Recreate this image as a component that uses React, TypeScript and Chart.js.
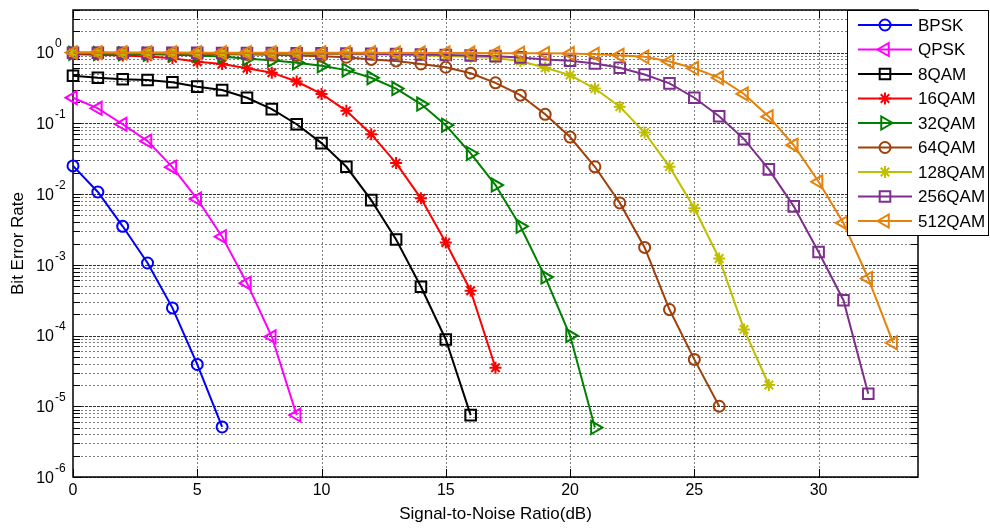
import React, { useEffect, useRef } from "react";
import { Chart, registerables } from "chart.js";
import { drawPoint } from "chart.js/helpers";

Chart.register(...registerables);

// SNR sweep (dB)
const snrDb = [0, 1, 2, 3, 4, 5, 6, 7, 8, 9, 10, 11, 12, 13, 14, 15, 16, 17, 18, 19, 20, 21, 22, 23, 24, 25, 26, 27, 28, 29, 30, 31, 32, 33];

// Simulated bit error rate per modulation, starting at 0 dB
const berBPSK = [2.5e-2, 1.07e-2, 3.5e-3, 1.06e-3, 2.46e-4, 3.9e-5, 5.1e-6];
const berQPSK = [0.23, 0.163, 0.097, 0.056, 0.024, 8.5e-3, 2.5e-3, 5.5e-4, 9.6e-5, 7.5e-6];
const ber8QAM = [0.47, 0.44, 0.42, 0.41, 0.38, 0.33, 0.295, 0.23, 0.159, 0.097, 0.0525, 0.0243, 8.2e-3, 2.28e-3, 4.9e-4, 8.8e-5, 7.5e-6];
const ber16QAM = [0.95, 0.93, 0.91, 0.88, 0.83, 0.74, 0.69, 0.6, 0.52, 0.39, 0.26, 0.15, 0.0703, 0.0274, 8.7e-3, 2.07e-3, 4.3e-4, 3.5e-5];
const ber32QAM = [0.98, 0.97, 0.96, 0.95, 0.93, 0.91, 0.88, 0.82, 0.78, 0.72, 0.65, 0.565, 0.44, 0.31, 0.187, 0.094, 0.0375, 0.0134, 3.5e-3, 6.7e-4, 1.0e-4, 5.0e-6];
const ber64QAM = [0.99, 0.985, 0.98, 0.975, 0.97, 0.96, 0.95, 0.94, 0.93, 0.91, 0.89, 0.86, 0.8, 0.76, 0.69, 0.62, 0.51, 0.374, 0.25, 0.134, 0.064, 0.0243, 7.5e-3, 1.76e-3, 2.33e-4, 4.6e-5, 1.0e-5];
const ber128QAM = [0.995, 0.993, 0.99, 0.988, 0.985, 0.982, 0.978, 0.974, 0.97, 0.965, 0.958, 0.95, 0.94, 0.93, 0.915, 0.895, 0.87, 0.84, 0.76, 0.61, 0.48, 0.31, 0.172, 0.074, 0.0244, 6.3e-3, 1.23e-3, 1.22e-4, 2.0e-5];
const ber256QAM = [0.997, 0.996, 0.995, 0.994, 0.992, 0.99, 0.988, 0.985, 0.982, 0.978, 0.973, 0.967, 0.96, 0.95, 0.94, 0.925, 0.91, 0.89, 0.855, 0.8, 0.765, 0.7, 0.61, 0.49, 0.367, 0.23, 0.126, 0.0598, 0.0223, 6.7e-3, 1.52e-3, 3.16e-4, 1.5e-5];
const ber512QAM = [0.999, 0.999, 0.998, 0.998, 0.998, 0.997, 0.997, 0.996, 0.996, 0.995, 0.994, 0.993, 0.992, 0.99, 0.989, 0.987, 0.985, 0.982, 0.979, 0.975, 0.97, 0.95, 0.92, 0.87, 0.75, 0.6, 0.44, 0.26, 0.124, 0.049, 0.0149, 3.9e-3, 6.4e-4, 7.9e-5];

const seriesNames = ["BPSK", "QPSK", "8QAM", "16QAM", "32QAM", "64QAM", "128QAM", "256QAM", "512QAM"];
const seriesValues = [berBPSK, berQPSK, ber8QAM, ber16QAM, ber32QAM, ber64QAM, ber128QAM, ber256QAM, ber512QAM];

// x-axis tick labels and y decades
const xTicks = [0, 5, 10, 15, 20, 25, 30];
const yDecades = [-6, -5, -4, -3, -2, -1, 0];

const xTitle = "Signal-to-Noise Ratio(dB)";
const yTitle = "Bit Error Rate";

type MarkerStyle = { color: string; pointStyle: string; rotation: number; radius: number };

const markerStyles: MarkerStyle[] = [
  { color: "#0000FF", pointStyle: "circle", rotation: 0, radius: 5.5 },
  { color: "#FF00FF", pointStyle: "triangle", rotation: -90, radius: 7.5 },
  { color: "#000000", pointStyle: "rect", rotation: 0, radius: 7.5 },
  { color: "#FF0000", pointStyle: "star", rotation: 0, radius: 6 },
  { color: "#008000", pointStyle: "triangle", rotation: 90, radius: 7.5 },
  { color: "#A0400A", pointStyle: "circle", rotation: 0, radius: 5.5 },
  { color: "#BFBF00", pointStyle: "star", rotation: 0, radius: 6 },
  { color: "#7E2F8E", pointStyle: "rect", rotation: 0, radius: 7.5 },
  { color: "#E6820A", pointStyle: "triangle", rotation: -90, radius: 7.5 },
];

const FONT = '"Liberation Sans", Arial, Helvetica, sans-serif';

const crisp = (v: number) => Math.round(v) + 0.5;

// White page, dotted grid, box, ticks and axis labels in the classic log-plot look
const axesPlugin = {
  id: "logAxes",
  beforeDraw(chart: any) {
    const { ctx, width, height } = chart;
    ctx.save();
    ctx.fillStyle = "#ffffff";
    ctx.fillRect(0, 0, width, height);
    ctx.restore();
  },
  beforeDatasetsDraw(chart: any) {
    const { ctx, chartArea: a } = chart;
    const xs = chart.scales.x;
    const ys = chart.scales.y;
    ctx.save();
    ctx.lineWidth = 1;

    // minor and major horizontal grid
    const yTickVals: { v: number; major: boolean }[] = [];
    for (let e = -6; e <= 0; e++) {
      for (let k = 1; k <= 9; k++) {
        const v = k * Math.pow(10, e);
        if (v > 4.0001) break;
        yTickVals.push({ v, major: k === 1 });
      }
    }
    for (const t of yTickVals) {
      const py = crisp(ys.getPixelForValue(t.v));
      if (t.major) {
        ctx.strokeStyle = "rgba(0,0,0,0.8)";
        ctx.setLineDash([3, 1]);
      } else {
        ctx.strokeStyle = "rgba(0,0,0,0.5)";
        ctx.setLineDash([2, 2]);
      }
      ctx.beginPath();
      ctx.moveTo(a.left, py);
      ctx.lineTo(a.right, py);
      ctx.stroke();
    }

    // vertical grid
    ctx.strokeStyle = "rgba(0,0,0,0.5)";
    ctx.setLineDash([2, 2]);
    for (const t of xTicks) {
      if (t === 0) continue;
      const px = crisp(xs.getPixelForValue(t));
      ctx.beginPath();
      ctx.moveTo(px, a.top);
      ctx.lineTo(px, a.bottom);
      ctx.stroke();
    }
    ctx.setLineDash([]);

    // ticks on all four sides
    ctx.strokeStyle = "#000";
    for (const t of yTickVals) {
      const py = crisp(ys.getPixelForValue(t.v));
      const len = t.major ? 8 : 7;
      ctx.beginPath();
      ctx.moveTo(a.left, py);
      ctx.lineTo(a.left + len, py);
      ctx.moveTo(a.right, py);
      ctx.lineTo(a.right - len, py);
      ctx.stroke();
    }
    for (const t of xTicks) {
      const px = crisp(xs.getPixelForValue(t));
      ctx.beginPath();
      ctx.moveTo(px, a.bottom);
      ctx.lineTo(px, a.bottom - 8);
      ctx.moveTo(px, a.top);
      ctx.lineTo(px, a.top + 8);
      ctx.stroke();
    }

    // box
    ctx.lineWidth = 1.5;
    ctx.strokeRect(Math.round(a.left), Math.round(a.top), Math.round(a.right - a.left), Math.round(a.bottom - a.top));

    // tick labels
    ctx.fillStyle = "#000";
    ctx.textBaseline = "middle";
    for (const e of yDecades) {
      const py = ys.getPixelForValue(Math.pow(10, e));
      ctx.font = `16px ${FONT}`;
      ctx.textAlign = "right";
      ctx.fillText("10", a.left - 19, py + 1.5);
      ctx.font = `12px ${FONT}`;
      ctx.textAlign = "left";
      ctx.fillText(e === 0 ? "0" : `-${-e}`, a.left - 18, py - 8.5);
    }
    ctx.font = `16px ${FONT}`;
    ctx.textAlign = "center";
    for (const t of xTicks) {
      ctx.fillText(String(t), xs.getPixelForValue(t), a.bottom + 14);
    }

    // axis titles
    ctx.font = `17px ${FONT}`;
    ctx.fillText(xTitle, (a.left + a.right) / 2, a.bottom + 37);
    ctx.save();
    ctx.translate(18, (a.top + a.bottom) / 2);
    ctx.rotate(-Math.PI / 2);
    ctx.fillText(yTitle, 0, 0);
    ctx.restore();

    ctx.restore();
  },
};

// Boxed legend in the upper-right corner, drawn over the curves
const legendPlugin = {
  id: "boxLegend",
  afterDatasetsDraw(chart: any) {
    const { ctx, chartArea: a } = chart;
    const boxLeft = 847;
    const boxTop = Math.round(a.top);
    const boxW = 141;
    const boxH = 225;
    ctx.save();
    ctx.fillStyle = "#ffffff";
    ctx.fillRect(boxLeft, boxTop, boxW, boxH);
    ctx.strokeStyle = "#000";
    ctx.lineWidth = 1;
    ctx.strokeRect(boxLeft + 0.5, boxTop + 0.5, boxW, boxH);

    seriesNames.forEach((name, i) => {
      const st = markerStyles[i];
      const y = boxTop + 15 + i * 24.5;
      ctx.strokeStyle = st.color;
      ctx.lineWidth = 2;
      ctx.beginPath();
      ctx.moveTo(858, y);
      ctx.lineTo(912, y);
      ctx.stroke();
      ctx.fillStyle = "rgba(0,0,0,0)";
      drawPoint(ctx, { pointStyle: st.pointStyle as any, rotation: st.rotation, radius: st.radius, borderWidth: 2 }, 885, y);
      ctx.fillStyle = "#000";
      ctx.font = `17px ${FONT}`;
      ctx.textAlign = "left";
      ctx.textBaseline = "middle";
      ctx.fillText(name, 918, y + 1);
    });
    ctx.restore();
  },
};

export default function App() {
  const canvasRef = useRef<HTMLCanvasElement | null>(null);

  useEffect(() => {
    const canvas = canvasRef.current;
    if (!canvas) return;
    const datasets = seriesValues.map((vals, i) => {
      const st = markerStyles[i];
      return {
        label: seriesNames[i],
        data: vals.map((v, j) => ({ x: snrDb[j], y: v })),
        borderColor: st.color,
        borderWidth: 2,
        pointStyle: st.pointStyle as any,
        pointRotation: st.rotation,
        pointRadius: st.radius,
        pointBorderWidth: 2,
        pointBorderColor: st.color,
        pointBackgroundColor: "rgba(0,0,0,0)",
        tension: 0,
        clip: false as any,
        order: -i,
      };
    });
    const chart = new Chart(canvas, {
      type: "line",
      data: { datasets },
      options: {
        responsive: false,
        animation: false,
        devicePixelRatio: 1,
        events: [],
        layout: { padding: { left: 73, top: 10, right: 72, bottom: 52 } },
        scales: {
          x: { type: "linear", min: 0, max: 34, display: false },
          y: { type: "logarithmic", min: 1e-6, max: 4, display: false },
        },
        plugins: { legend: { display: false }, tooltip: { enabled: false } },
      },
      plugins: [axesPlugin, legendPlugin],
    });
    return () => chart.destroy();
  }, []);

  return (
    <div style={{ position: "fixed", left: 0, top: 0, width: 990, height: 529, background: "#fff" }}>
      <canvas ref={canvasRef} width={990} height={529} style={{ display: "block", width: 990, height: 529 }} />
    </div>
  );
}
